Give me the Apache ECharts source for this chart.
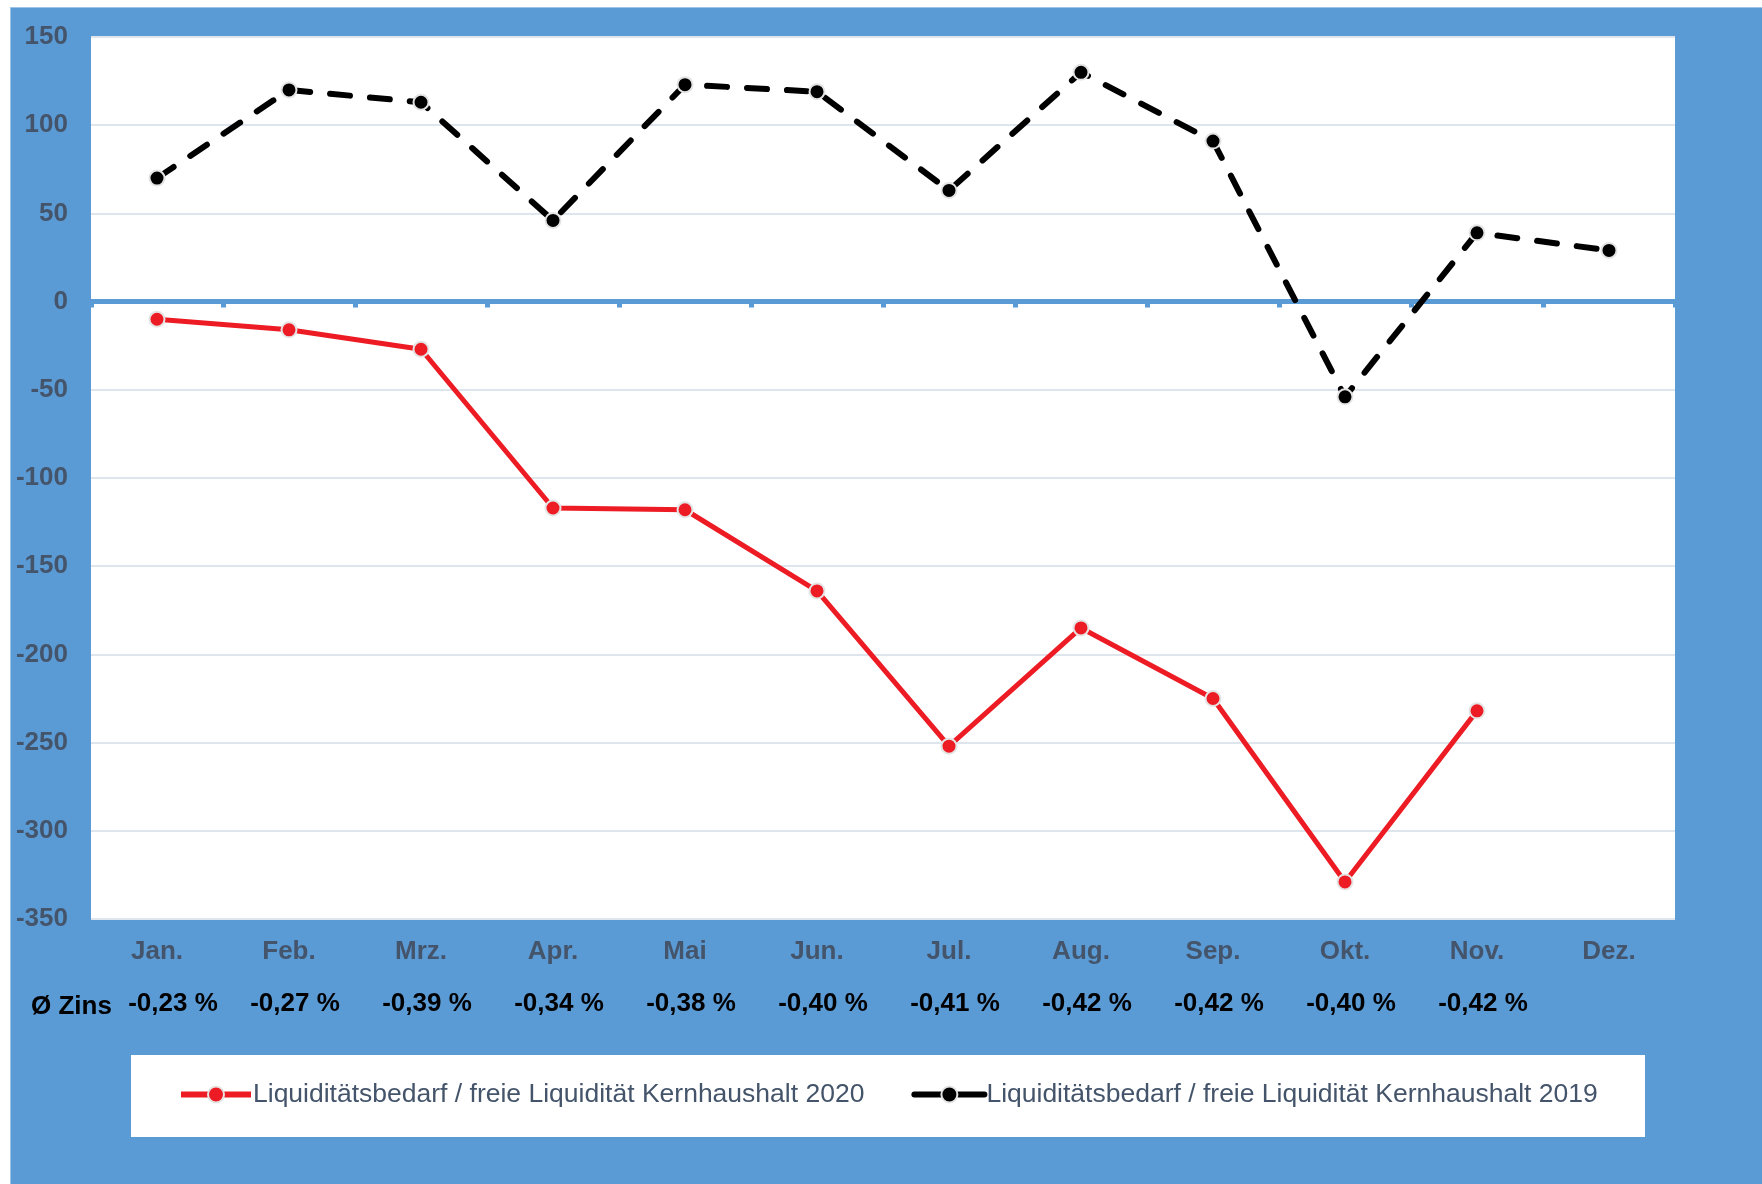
<!DOCTYPE html>
<html>
<head>
<meta charset="utf-8">
<script src="https://cdn.jsdelivr.net/npm/echarts@6/dist/echarts.min.js"></script>
<style>
html,body{margin:0;padding:0;background:#fff;}
#chart{width:1762px;height:1184px;}
</style>
</head>
<body>
<div id="chart"></div>
<script>
const months = ['Jan.','Feb.','Mrz.','Apr.','Mai','Jun.','Jul.','Aug.','Sep.','Okt.','Nov.','Dez.'];
const zins = ['-0,23 %','-0,27 %','-0,39 %','-0,34 %','-0,38 %','-0,40 %','-0,41 %','-0,42 %','-0,42 %','-0,40 %','-0,42 %',''];
const name2020 = 'Liquiditätsbedarf / freie Liquidität Kernhaushalt 2020';
const name2019 = 'Liquiditätsbedarf / freie Liquidität Kernhaushalt 2019';
const values2020 = [-10,-16,-27,-117,-118,-164,-252,-185,-225,-329,-232,null];
const values2019 = [70,120,113,46,123,119,63,130,91,-54,39,29];
const yTicks = {min:-350, max:150, interval:50};

const FONT = "'Liberation Sans', Arial, sans-serif";
const BLUE = '#5b9bd5';
const LABEL = '#44546a';
const FS = 26;

const chart = echarts.init(document.getElementById('chart'), null, {renderer:'canvas'});
chart.setOption({
  backgroundColor: BLUE,
  textStyle: {fontFamily: FONT},
  graphic: [
    {type:'rect', z:-1, shape:{x:0,y:0,width:1762,height:7}, style:{fill:'#fff'}},
    {type:'rect', z:-1, shape:{x:0,y:0,width:10,height:1184}, style:{fill:'#fff'}},
    {type:'rect', z:-1, shape:{x:10,y:7,width:1752,height:1}, style:{fill:'#9dc3e6'}},
    {type:'rect', z:-1, shape:{x:10,y:7,width:1,height:1177}, style:{fill:'#9dc3e6'}},
    {type:'rect', z:-1, shape:{x:131,y:1055,width:1514,height:82}, style:{fill:'#fff'}}
  ],
  title: {
    text: 'Ø Zins', left: 26, top: 989,
    textStyle: {fontFamily: FONT, fontSize: FS, fontWeight: 'bold', color: '#000'}
  },
  legend: {
    left: 178, top: 1081, padding: 0,
    itemWidth: 70, itemHeight: 20, itemGap: 47,
    textStyle: {fontFamily: FONT, fontSize: 26.5, color: LABEL, padding:[0,0,0,-3]},
    data: [
      {name: name2020, lineStyle: {width: 6, type: 'solid', color: '#ed1c24'}, itemStyle: {color:'#ed1c24', borderColor:'#e4e4e4', borderWidth:2}},
      {name: name2019, lineStyle: {width: 6, type: 'solid', color: '#000'}, itemStyle: {color:'#000', borderColor:'#e4e4e4', borderWidth:2}}
    ]
  },
  grid: {
    left: 91, right: 87, top: 37, bottom: 265,
    show: true, backgroundColor: '#fff', borderWidth: 0
  },
  xAxis: [
    {
      type: 'category', data: months, boundaryGap: true,
      axisLine: {show: true, onZero: true, lineStyle: {color: BLUE, width: 5}},
      axisTick: {show: true, length: 6, lineStyle: {color: BLUE, width: 5}},
      axisLabel: {show: false},
      splitLine: {show: false}
    },
    {
      type: 'category', data: months, position: 'bottom',
      axisLine: {show: false, onZero: false},
      axisTick: {show: false},
      axisLabel: {show: true, margin: 20, fontFamily: FONT, fontSize: FS, fontWeight: 'bold', color: LABEL}
    },
    {
      type: 'category', data: zins, position: 'bottom',
      axisLine: {show: false, onZero: false},
      axisTick: {show: false},
      axisLabel: {
        show: true, margin: 72, interval: 0, fontFamily: FONT, fontSize: FS, fontWeight: 'bold', color: '#000',
        formatter: function (v, i) { return i === 0 ? '{j|' + v + '}' : '{n|' + v + '}'; },
        rich: {
          j: {fontFamily: FONT, fontSize: FS, fontWeight: 'bold', color: '#000', padding: [0,0,0,32]},
          n: {fontFamily: FONT, fontSize: FS, fontWeight: 'bold', color: '#000', padding: [0,0,0,12]}
        }
      }
    }
  ],
  yAxis: {
    type: 'value', min: yTicks.min, max: yTicks.max, interval: yTicks.interval,
    axisLine: {show: false}, axisTick: {show: false},
    axisLabel: {margin: 23, fontFamily: FONT, fontSize: FS, fontWeight: 'bold', color: LABEL},
    splitLine: {show: true, lineStyle: {color: '#dfe5ec', width: 2}}
  },
  series: [
    {
      name: name2020, type: 'line', data: values2020, xAxisIndex: 0,
      symbol: 'circle', symbolSize: 15, z: 3,
      lineStyle: {color: '#ed1c24', width: 5},
      itemStyle: {color: '#ed1c24', borderColor: '#e4e4e4', borderWidth: 2}
    },
    {
      name: name2019, type: 'line', data: values2019, xAxisIndex: 0,
      symbol: 'circle', symbolSize: 15, z: 3,
      lineStyle: {color: '#000', width: 6, type: [20, 20], cap: 'round'},
      itemStyle: {color: '#000', borderColor: '#e4e4e4', borderWidth: 2}
    }
  ]
});
</script>
</body>
</html>
